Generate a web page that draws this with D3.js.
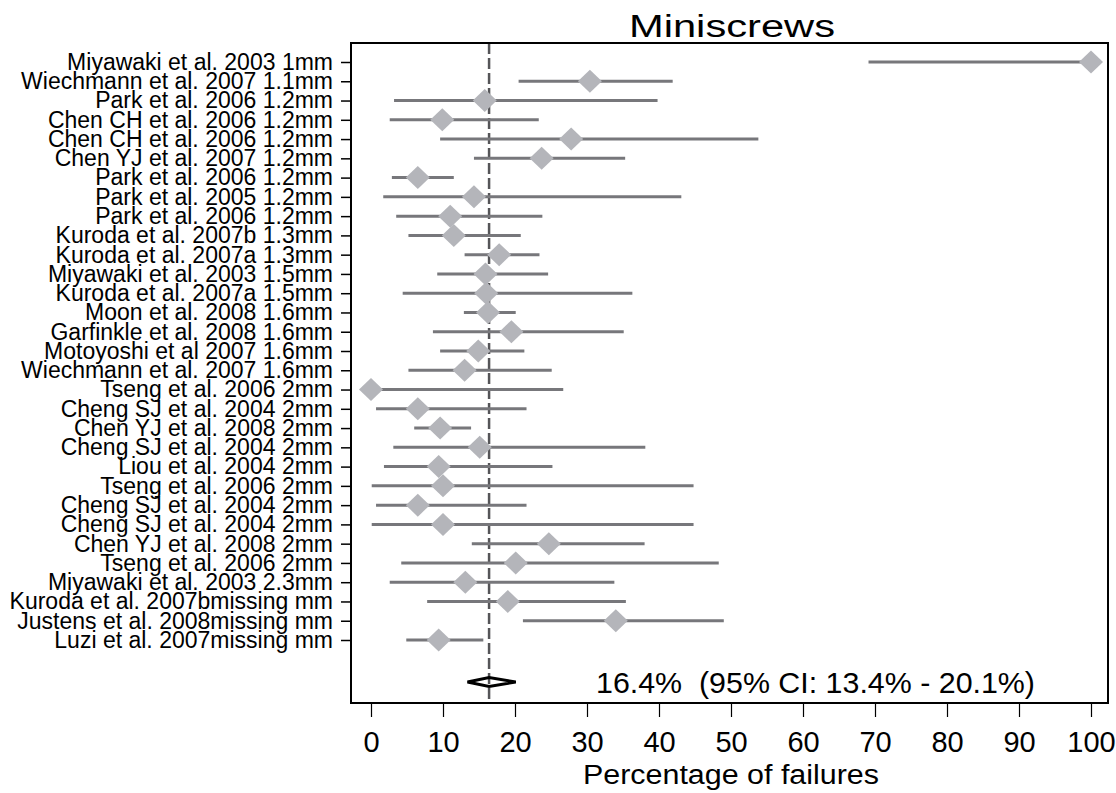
<!DOCTYPE html>
<html><head><meta charset="utf-8">
<script src="https://cdn.jsdelivr.net/npm/d3@7"></script>
<style>body{margin:0;background:#fff;} svg{display:block;font-family:"Liberation Sans",Arial,sans-serif;}</style>
</head><body>
<svg id="c" width="1116" height="793"></svg>
<script>
const studies = ["Miyawaki et al. 2003 1mm","Wiechmann et al. 2007 1.1mm","Park et al. 2006 1.2mm","Chen CH et al. 2006 1.2mm","Chen CH et al. 2006 1.2mm","Chen YJ et al. 2007 1.2mm","Park et al. 2006 1.2mm","Park et al. 2005 1.2mm","Park et al. 2006 1.2mm","Kuroda et al. 2007b 1.3mm","Kuroda et al. 2007a 1.3mm","Miyawaki et al. 2003 1.5mm","Kuroda et al. 2007a 1.5mm","Moon et al. 2008 1.6mm","Garfinkle et al. 2008 1.6mm","Motoyoshi et al 2007 1.6mm","Wiechmann et al. 2007 1.6mm","Tseng et al. 2006 2mm","Cheng SJ et al. 2004 2mm","Chen YJ et al. 2008 2mm","Cheng SJ et al. 2004 2mm","Liou et al. 2004 2mm","Tseng et al. 2006 2mm","Cheng SJ et al. 2004 2mm","Cheng SJ et al. 2004 2mm","Chen YJ et al. 2008 2mm","Tseng et al. 2006 2mm","Miyawaki et al. 2003 2.3mm","Kuroda et al. 2007bmissing mm","Justens et al. 2008missing mm","Luzi et al. 2007missing mm"];
const estimate = [100,30.4,15.8,9.9,27.8,23.7,6.5,14.3,11.0,11.5,17.8,15.9,16.0,16.25,19.5,14.9,13.0,0,6.5,9.6,15.1,9.4,10.0,6.5,10.0,24.7,20.1,13.1,19.0,34.0,9.4];
const ciLow = [69.1,20.5,3.2,2.6,9.6,14.3,2.9,1.7,3.5,5.2,13.0,9.2,4.4,12.9,8.6,9.6,5.2,0,0.7,6.0,3.1,1.8,0.1,0.7,0.1,14.0,4.2,2.6,7.8,21.1,4.9];
const ciHigh = [100,41.9,39.8,23.3,53.8,35.3,11.5,43.1,23.8,20.8,23.4,24.6,36.3,20.1,35.1,21.3,25.1,26.7,21.6,13.9,38.1,25.2,44.8,21.6,44.8,38.0,48.3,33.8,35.4,49.0,15.6];
const pooled = 16.4, pooledLow = 13.4, pooledHigh = 20.1;
const pooledText = "16.4%  (95% CI: 13.4% - 20.1%)";
const xTicks = [0,10,20,30,40,50,60,70,80,90,100];
const title = "Miniscrews";
const xTitle = "Percentage of failures";

const svg = d3.select("#c");
const x = d3.scaleLinear().domain([0,100]).range([371,1091]);
const y = d3.scaleLinear().domain([0,30]).range([62,640]);
const ySum = 682;
const frame = {l:351, r:1108, t:43, b:703};

// title
svg.append("text").attr("x",732).attr("y",37).attr("text-anchor","middle")
  .attr("font-size",31).attr("textLength",206).attr("lengthAdjust","spacingAndGlyphs").text(title);

// dashed reference line
svg.append("line").attr("x1",x(pooled)).attr("x2",x(pooled)).attr("y1",frame.t).attr("y2",frame.b)
  .attr("stroke","#555558").attr("stroke-width",2.5).attr("stroke-dasharray","11,4");

// CI lines
const g = svg.append("g");
g.selectAll("line.ci").data(studies).join("line").attr("class","ci")
  .attr("x1",(d,i)=>x(ciLow[i])).attr("x2",(d,i)=>x(ciHigh[i]))
  .attr("y1",(d,i)=>y(i)).attr("y2",(d,i)=>y(i))
  .attr("stroke","#77777b").attr("stroke-width",3);
// diamonds
g.selectAll("path.pt").data(studies).join("path").attr("class","pt")
  .attr("d",(d,i)=>{const cx=x(estimate[i]), cy=y(i), w=12, h=11.5;
     return `M${cx-w},${cy}L${cx},${cy-h}L${cx+w},${cy}L${cx},${cy+h}Z`;})
  .attr("fill","#b4b5ba");

// pooled diamond
svg.append("path")
  .attr("d",`M${x(pooledLow)},${ySum}L${x(pooled)},${ySum-4.5}L${x(pooledHigh)},${ySum}L${x(pooled)},${ySum+4.5}Z`)
  .attr("fill","none").attr("stroke","#000").attr("stroke-width",3);
svg.append("text").attr("x",596).attr("y",693).attr("font-size",30).style("white-space","pre")
  .attr("textLength",439).attr("lengthAdjust","spacingAndGlyphs").text(pooledText);

// frame
svg.append("rect").attr("x",frame.l).attr("y",frame.t).attr("width",frame.r-frame.l).attr("height",frame.b-frame.t)
  .attr("fill","none").attr("stroke","#000").attr("stroke-width",2);

// left axis
const yAxis = d3.axisLeft(y).tickValues(d3.range(studies.length)).tickFormat(i=>studies[i]).tickSize(10).tickPadding(8);
const ya = svg.append("g").attr("transform",`translate(${frame.l},0)`).call(yAxis);
ya.select(".domain").remove();
ya.selectAll(".tick line").attr("stroke","#000").attr("stroke-width",1.5);
ya.selectAll(".tick text").attr("font-size",23).attr("fill","#000").attr("font-family","Liberation Sans, Arial, sans-serif");

// bottom axis
const xAxis = d3.axisBottom(x).tickValues(xTicks).tickSize(14).tickPadding(14);
const xa = svg.append("g").attr("transform",`translate(0,${frame.b})`).call(xAxis);
xa.select(".domain").remove();
xa.selectAll(".tick line").attr("stroke","#000").attr("stroke-width",1.2);
xa.selectAll(".tick text").attr("font-size",29).attr("fill","#000").attr("font-family","Liberation Sans, Arial, sans-serif");

svg.append("text").attr("x",731).attr("y",784).attr("text-anchor","middle").attr("font-size",27)
  .attr("textLength",296).attr("lengthAdjust","spacingAndGlyphs").text(xTitle);
</script>
</body></html>
